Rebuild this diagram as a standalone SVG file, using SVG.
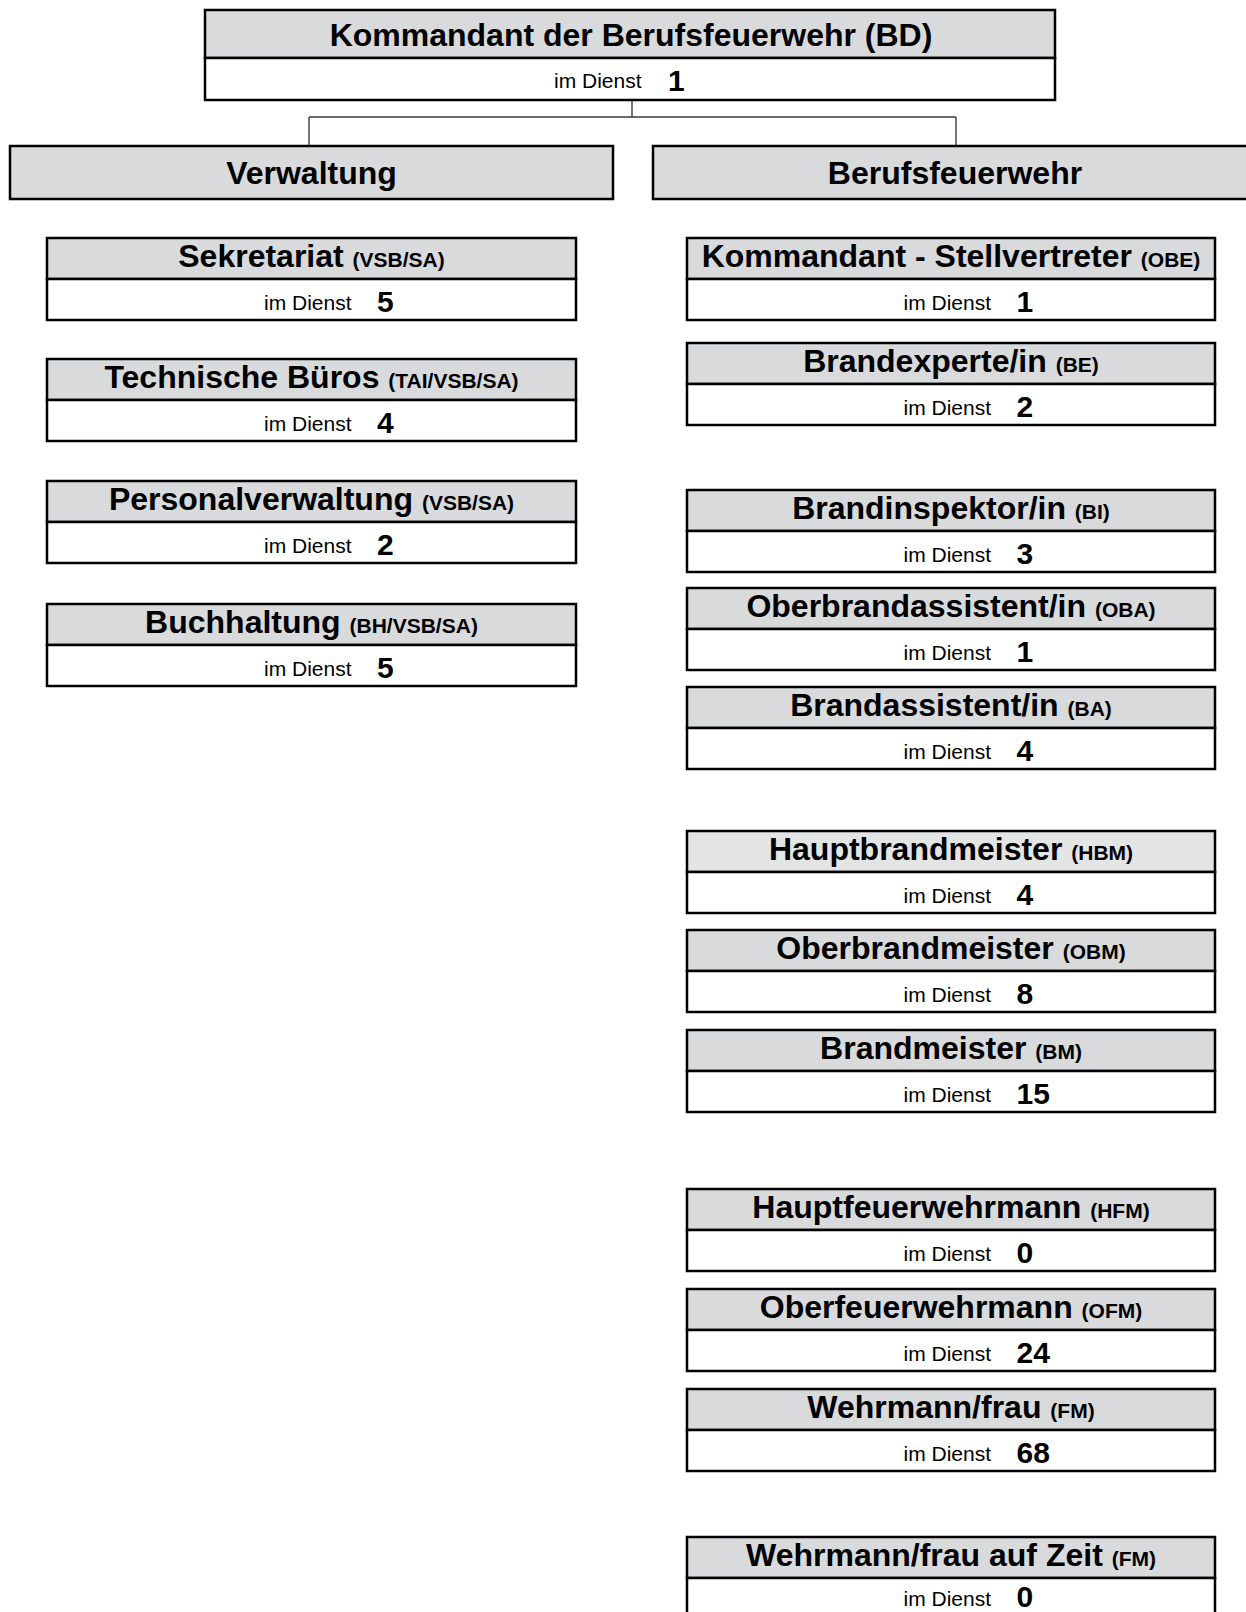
<svg xmlns="http://www.w3.org/2000/svg" width="1246" height="1612" viewBox="0 0 1246 1612">
<style>
text{font-family:"Liberation Sans",Arial,sans-serif;fill:#000}
.hd{fill:#d9dadc;stroke:#000;stroke-width:2.5}
.hd2{fill:#e3e4e4;stroke:#000;stroke-width:2.5}
.bd{fill:#fff;stroke:#000;stroke-width:2.5}
.t{font-size:32px;font-weight:bold;text-anchor:middle}
.ab{font-size:21px}
.d{font-size:21px}
.n{font-size:30px;font-weight:bold}
.con{fill:none;stroke:#3a3a3a;stroke-width:1.4}
</style>
<rect width="1246" height="1612" fill="#fff"/>
<g id="connectors">
<path class="con" d="M632 100V117M309 117H956M309 117V146M956 117V146"/>
</g>
<g id="kommandant">
<rect class="hd" x="205" y="10" width="850" height="48"/>
<rect class="bd" x="205" y="58" width="850" height="42"/>
<text class="t" x="631" y="46">Kommandant der Berufsfeuerwehr (BD)</text>
<text class="d" x="554" y="88">im Dienst</text>
<text class="n" x="668" y="91">1</text>
</g>
<g id="verwaltung">
<rect class="hd" x="10" y="146" width="603" height="53"/>
<text class="t" x="311.5" y="184">Verwaltung</text>
</g>
<g id="berufsfeuerwehr">
<rect class="hd" x="653" y="146" width="603" height="53"/>
<text class="t" x="955" y="184">Berufsfeuerwehr</text>
</g>
<g id="sekretariat">
<rect class="hd" x="47" y="238" width="529" height="41"/>
<rect class="bd" x="47" y="279" width="529" height="41"/>
<text class="t" x="311.5" y="267">Sekretariat <tspan class="ab">(VSB/SA)</tspan></text>
<text class="d" x="264" y="310">im Dienst</text>
<text class="n" x="377" y="311.5">5</text>
</g>
<g id="technische-bueros">
<rect class="hd" x="47" y="359" width="529" height="41"/>
<rect class="bd" x="47" y="400" width="529" height="41"/>
<text class="t" x="311.5" y="388">Technische Büros <tspan class="ab">(TAI/VSB/SA)</tspan></text>
<text class="d" x="264" y="431">im Dienst</text>
<text class="n" x="377" y="432.5">4</text>
</g>
<g id="personalverwaltung">
<rect class="hd" x="47" y="481" width="529" height="41"/>
<rect class="bd" x="47" y="522" width="529" height="41"/>
<text class="t" x="311.5" y="510">Personalverwaltung <tspan class="ab">(VSB/SA)</tspan></text>
<text class="d" x="264" y="553">im Dienst</text>
<text class="n" x="377" y="554.5">2</text>
</g>
<g id="buchhaltung">
<rect class="hd" x="47" y="604" width="529" height="41"/>
<rect class="bd" x="47" y="645" width="529" height="41"/>
<text class="t" x="311.5" y="633">Buchhaltung <tspan class="ab">(BH/VSB/SA)</tspan></text>
<text class="d" x="264" y="676">im Dienst</text>
<text class="n" x="377" y="677.5">5</text>
</g>
<g id="stellvertreter">
<rect class="hd" x="687" y="238" width="528" height="41"/>
<rect class="bd" x="687" y="279" width="528" height="41"/>
<text class="t" x="951" y="267">Kommandant - Stellvertreter <tspan class="ab">(OBE)</tspan></text>
<text class="d" x="903.5" y="310">im Dienst</text>
<text class="n" x="1016.5" y="311.5">1</text>
</g>
<g id="brandexperte">
<rect class="hd" x="687" y="343" width="528" height="41"/>
<rect class="bd" x="687" y="384" width="528" height="41"/>
<text class="t" x="951" y="372">Brandexperte/in <tspan class="ab">(BE)</tspan></text>
<text class="d" x="903.5" y="415">im Dienst</text>
<text class="n" x="1016.5" y="416.5">2</text>
</g>
<g id="brandinspektor">
<rect class="hd" x="687" y="490" width="528" height="41"/>
<rect class="bd" x="687" y="531" width="528" height="41"/>
<text class="t" x="951" y="519">Brandinspektor/in <tspan class="ab">(BI)</tspan></text>
<text class="d" x="903.5" y="562">im Dienst</text>
<text class="n" x="1016.5" y="563.5">3</text>
</g>
<g id="oberbrandassistent">
<rect class="hd" x="687" y="588" width="528" height="41"/>
<rect class="bd" x="687" y="629" width="528" height="41"/>
<text class="t" x="951" y="617">Oberbrandassistent/in <tspan class="ab">(OBA)</tspan></text>
<text class="d" x="903.5" y="660">im Dienst</text>
<text class="n" x="1016.5" y="661.5">1</text>
</g>
<g id="brandassistent">
<rect class="hd" x="687" y="687" width="528" height="41"/>
<rect class="bd" x="687" y="728" width="528" height="41"/>
<text class="t" x="951" y="716">Brandassistent/in <tspan class="ab">(BA)</tspan></text>
<text class="d" x="903.5" y="759">im Dienst</text>
<text class="n" x="1016.5" y="760.5">4</text>
</g>
<g id="hauptbrandmeister">
<rect class="hd2" x="687" y="831" width="528" height="41"/>
<rect class="bd" x="687" y="872" width="528" height="41"/>
<text class="t" x="951" y="860">Hauptbrandmeister <tspan class="ab">(HBM)</tspan></text>
<text class="d" x="903.5" y="903">im Dienst</text>
<text class="n" x="1016.5" y="904.5">4</text>
</g>
<g id="oberbrandmeister">
<rect class="hd" x="687" y="930" width="528" height="41"/>
<rect class="bd" x="687" y="971" width="528" height="41"/>
<text class="t" x="951" y="959">Oberbrandmeister <tspan class="ab">(OBM)</tspan></text>
<text class="d" x="903.5" y="1002">im Dienst</text>
<text class="n" x="1016.5" y="1003.5">8</text>
</g>
<g id="brandmeister">
<rect class="hd" x="687" y="1030" width="528" height="41"/>
<rect class="bd" x="687" y="1071" width="528" height="41"/>
<text class="t" x="951" y="1059">Brandmeister <tspan class="ab">(BM)</tspan></text>
<text class="d" x="903.5" y="1102">im Dienst</text>
<text class="n" x="1016.5" y="1103.5">15</text>
</g>
<g id="hauptfeuerwehrmann">
<rect class="hd" x="687" y="1189" width="528" height="41"/>
<rect class="bd" x="687" y="1230" width="528" height="41"/>
<text class="t" x="951" y="1218">Hauptfeuerwehrmann <tspan class="ab">(HFM)</tspan></text>
<text class="d" x="903.5" y="1261">im Dienst</text>
<text class="n" x="1016.5" y="1262.5">0</text>
</g>
<g id="oberfeuerwehrmann">
<rect class="hd" x="687" y="1289" width="528" height="41"/>
<rect class="bd" x="687" y="1330" width="528" height="41"/>
<text class="t" x="951" y="1318">Oberfeuerwehrmann <tspan class="ab">(OFM)</tspan></text>
<text class="d" x="903.5" y="1361">im Dienst</text>
<text class="n" x="1016.5" y="1362.5">24</text>
</g>
<g id="wehrmann">
<rect class="hd" x="687" y="1389" width="528" height="41"/>
<rect class="bd" x="687" y="1430" width="528" height="41"/>
<text class="t" x="951" y="1418">Wehrmann/frau <tspan class="ab">(FM)</tspan></text>
<text class="d" x="903.5" y="1461">im Dienst</text>
<text class="n" x="1016.5" y="1462.5">68</text>
</g>
<g id="wehrmann-auf-zeit">
<rect class="hd" x="687" y="1537" width="528" height="41"/>
<rect class="bd" x="687" y="1578" width="528" height="41"/>
<text class="t" x="951" y="1566">Wehrmann/frau auf Zeit <tspan class="ab">(FM)</tspan></text>
<text class="d" x="903.5" y="1606">im Dienst</text>
<text class="n" x="1016.5" y="1607">0</text>
</g>
</svg>
